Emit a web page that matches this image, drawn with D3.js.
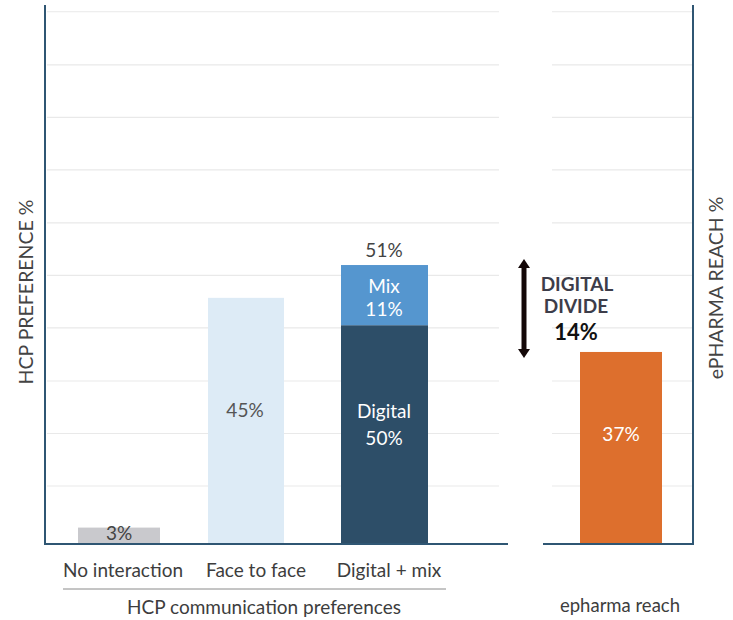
<!DOCTYPE html>
<html>
<head>
<meta charset="utf-8">
<script src="https://cdn.jsdelivr.net/npm/d3@7"></script>
<style>
  html, body { margin: 0; padding: 0; background: #ffffff; }
  svg { display: block; font-family: Lato, "Open Sans", sans-serif; }
</style>
</head>
<body>
<svg id="chart" width="733" height="620"></svg>
<script>
// ---- data ----
const categories = ["No interaction", "Face to face", "Digital + mix"];
const singleValues = [3, 45, null];          // plain bars
const digitalValues = [null, null, 40];      // stacked: lower segment
const mixValues = [null, null, 11];          // stacked: upper segment
const segmentNames = ["Digital", "Mix"];
const digitalLabel = "50%";
const reachCategory = ["epharma reach"];
const reachValues = [37];
const divideValue = 14;
const gridValues = [10.6, 20.2, 29.8, 39.5, 49.1, 58.7, 68.4, 78.0, 87.6, 97.3];

// ---- layout ----
const svg = d3.select("#chart");
const baseY = 544;
const topY = 5;
const leftAxisX = 45, leftEndX = 508;
const rightStartX = 543, rightAxisX = 693;
const barW = 82;

const yL = d3.scaleLinear().domain([0, 100]).range([baseY, baseY - 547]);
const yR = d3.scaleLinear().domain([0, 100]).range([baseY, baseY - 519]);
const x = d3.scalePoint().domain(categories).range([120, 386]);
const xR = d3.scalePoint().domain(reachCategory).range([621, 621]);

const textCol = "#3d3d3d";
const colors = {
  "No interaction": "#c9c9cd",
  "Face to face": "#ddebf6",
  Digital: "#2d4e68",
  Mix: "#5596cf",
  reach: "#dd6f2d"
};

// gridlines
const grid = svg.append("g");
grid.selectAll("line.gl").data(gridValues).join("line")
  .attr("x1", leftAxisX + 2).attr("x2", 499)
  .attr("y1", d => yL(d)).attr("y2", d => yL(d))
  .attr("stroke", "#e9e9e9").attr("stroke-width", 1.2);
grid.selectAll("line.gr").data(gridValues).join("line")
  .attr("x1", 552).attr("x2", rightAxisX - 1)
  .attr("y1", d => yL(d)).attr("y2", d => yL(d))
  .attr("stroke", "#e9e9e9").attr("stroke-width", 1.2);

// plain bars
const plain = categories.map((c, i) => ({ c, v: singleValues[i] })).filter(d => d.v != null);
svg.append("g").selectAll("rect").data(plain).join("rect")
  .attr("x", d => x(d.c) - barW / 2 - (d.v < 10 ? 1 : 4)).attr("width", d => d.v < 10 ? barW : barW - 6)
  .attr("y", d => yL(d.v)).attr("height", d => baseY - yL(d.v))
  .attr("fill", d => colors[d.c]);

// stacked bar
const stackRows = categories.map((c, i) => ({ c, Digital: digitalValues[i] || 0, Mix: mixValues[i] || 0 }))
  .filter((d, i) => digitalValues[i] != null);
const stacked = d3.stack().keys(segmentNames)(stackRows);
const sg = svg.append("g");
stacked.forEach(layer => {
  sg.selectAll("rect.s" + layer.key).data(layer).join("rect")
    .attr("x", d => x(d.data.c) - barW / 2 - 4).attr("width", barW + 5)
    .attr("y", d => yL(d[1])).attr("height", d => yL(d[0]) - yL(d[1]))
    .attr("fill", colors[layer.key]);
});

// reach bar
svg.append("g").selectAll("rect").data(reachValues).join("rect")
  .attr("x", (d, i) => xR(reachCategory[i]) - barW / 2).attr("width", barW)
  .attr("y", d => yR(d)).attr("height", d => baseY - yR(d))
  .attr("fill", colors.reach);

// axes / frame lines
const axisCol = "#2f5673";
svg.append("line").attr("x1", leftAxisX).attr("x2", leftAxisX).attr("y1", topY).attr("y2", baseY + 1)
  .attr("stroke", axisCol).attr("stroke-width", 2);
svg.append("line").attr("x1", leftAxisX).attr("x2", leftEndX).attr("y1", baseY).attr("y2", baseY)
  .attr("stroke", axisCol).attr("stroke-width", 2);
svg.append("line").attr("x1", rightAxisX).attr("x2", rightAxisX).attr("y1", topY).attr("y2", baseY + 1)
  .attr("stroke", axisCol).attr("stroke-width", 2);
svg.append("line").attr("x1", rightStartX).attr("x2", rightAxisX).attr("y1", baseY).attr("y2", baseY)
  .attr("stroke", axisCol).attr("stroke-width", 2);

// value labels
const lbl = svg.append("g").attr("text-anchor", "middle").attr("font-size", 19);
lbl.selectAll("text.pv").data(plain).join("text")
  .attr("x", d => x(d.c) - (d.v < 10 ? 1 : 8))
  .attr("y", d => d.v < 10 ? baseY - 4 : yL(d.v / 2) - 4)
  .attr("fill", d => d.v < 10 ? "#444" : "#555")
  .text(d => d.v + "%");

stackRows.forEach(d => {
  const cx = x(d.c) - 2;
  const total = d.Digital + d.Mix;
  lbl.append("text").attr("x", cx).attr("y", yL(total) - 8).attr("fill", "#444").text(total + "%");
  const mixMid = yL(d.Digital + d.Mix / 2);
  lbl.append("text").attr("x", cx).attr("y", mixMid - 2).attr("fill", "#fff").text("Mix");
  lbl.append("text").attr("x", cx).attr("y", mixMid + 21).attr("fill", "#fff").text(d.Mix + "%");
  const digMid = yL(d.Digital / 2);
  lbl.append("text").attr("x", cx).attr("y", digMid - 17).attr("fill", "#fff").text("Digital");
  lbl.append("text").attr("x", cx).attr("y", digMid + 10).attr("fill", "#fff").text(digitalLabel);
});

lbl.selectAll("text.rv").data(reachValues).join("text")
  .attr("x", (d, i) => xR(reachCategory[i]))
  .attr("y", d => yR(d / 2) - 7)
  .attr("fill", "#fff").text(d => d + "%");

// category labels
const cat = svg.append("g").attr("text-anchor", "middle").attr("font-size", 19).attr("fill", textCol);
cat.selectAll("text").data(categories).join("text")
  .attr("x", d => x(d) + 3).attr("y", 577).text(d => d);
svg.append("line").attr("x1", 63).attr("x2", 446).attr("y1", 589).attr("y2", 589)
  .attr("stroke", "#8a8a8a").attr("stroke-width", 1);
svg.append("text").attr("x", 264).attr("y", 614).attr("text-anchor", "middle")
  .attr("font-size", 19).attr("fill", textCol).text("HCP communication preferences");
svg.append("text").attr("x", xR(reachCategory[0]) - 1).attr("y", 612).attr("text-anchor", "middle")
  .attr("font-size", 18.5).attr("fill", textCol).text(reachCategory[0]);

// axis titles
svg.append("text").attr("transform", "translate(33,292) rotate(-90)")
  .attr("text-anchor", "middle").attr("font-size", 19.5).attr("fill", "#444").text("HCP PREFERENCE %");
svg.append("text").attr("transform", "translate(723,288) rotate(-90)")
  .attr("text-anchor", "middle").attr("font-size", 19.5).attr("fill", "#444").text("ePHARMA REACH %");

// digital divide arrow
const totalTop = yL(digitalValues[2] + mixValues[2]);
const reachTop = yR(reachValues[0]);
const ax = 524;
const a1 = totalTop - 6, a2 = reachTop + 6;
const arrowCol = "#140808";
svg.append("line").attr("x1", ax).attr("x2", ax).attr("y1", a1 + 6).attr("y2", a2 - 6)
  .attr("stroke", arrowCol).attr("stroke-width", 5);
svg.append("path").attr("d", `M${ax},${a1} L${ax + 6},${a1 + 9} L${ax - 6},${a1 + 9} Z`).attr("fill", arrowCol);
svg.append("path").attr("d", `M${ax},${a2} L${ax + 6},${a2 - 9} L${ax - 6},${a2 - 9} Z`).attr("fill", arrowCol);

const dd = svg.append("g").attr("text-anchor", "middle");
dd.append("text").attr("x", 577).attr("y", 291).attr("font-size", 19).attr("font-weight", "bold")
  .attr("fill", "#3d3d4a").text("DIGITAL");
dd.append("text").attr("x", 576).attr("y", 313).attr("font-size", 19).attr("font-weight", "bold")
  .attr("fill", "#3d3d4a").text("DIVIDE");
dd.append("text").attr("x", 576).attr("y", 340).attr("font-size", 22).attr("font-weight", "bold")
  .attr("fill", "#111").text(divideValue + "%");
</script>
</body>
</html>
